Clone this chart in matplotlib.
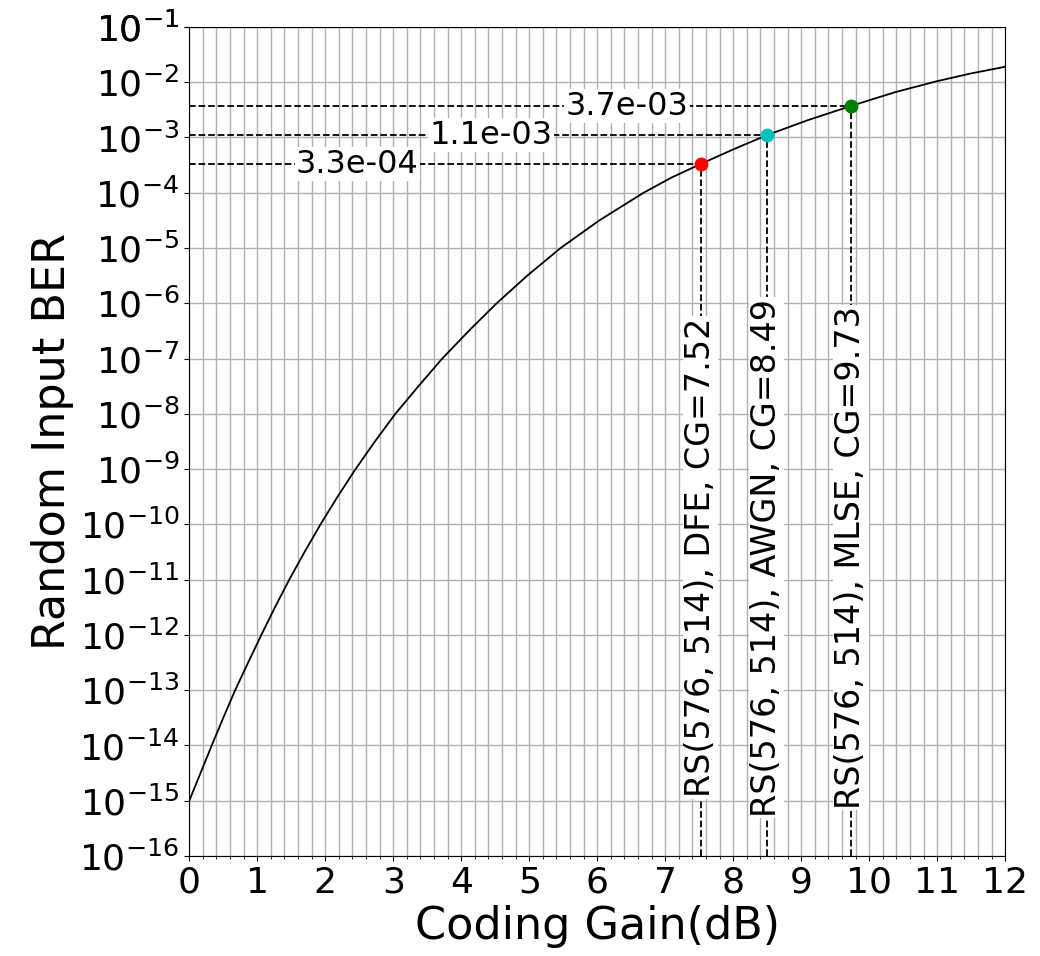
import matplotlib
matplotlib.use('Agg')
import matplotlib.pyplot as plt
import numpy as np
from matplotlib.ticker import MultipleLocator, NullLocator, FixedLocator

# curve (coding gain in dB, log10 of input BER)
gain_db = [0.0, 0.165, 0.33, 0.50, 0.675, 0.865, 1.06, 1.26, 1.47, 1.695,
           1.93, 2.18, 2.445, 2.73, 3.03, 3.37, 3.72, 4.11, 4.52, 4.97,
           5.46, 6.03, 6.68, 7.10, 7.52, 8.0, 8.49, 9.1, 9.73, 10.38,
           11.0, 11.5, 12.0]
ber_log = [-15, -14.5, -14, -13.5, -13, -12.5, -12, -11.5, -11, -10.5,
           -10, -9.5, -9, -8.5, -8, -7.5, -7, -6.5, -6, -5.5,
           -5, -4.5, -4, -3.72, -3.48, -3.215, -2.96, -2.685, -2.43, -2.18,
           -1.98, -1.84, -1.72]

# marked operating points
cg = [7.52, 8.49, 9.73]
ber_in = [3.3e-4, 1.1e-3, 3.7e-3]
names = ['RS(576, 514), DFE', 'RS(576, 514), AWGN', 'RS(576, 514), MLSE']
dot_colors = ['r', 'c', 'g']

y_decades = list(range(-16, 0))
x_ticks = list(range(0, 13))

fig = plt.figure(figsize=(10.4, 9.56), dpi=100)
ax = fig.add_axes([0.182, 0.1046, 0.7846, 0.8672])

ax.plot(gain_db, 10.0 ** np.array(ber_log), color='k', linewidth=1.3)

# where the labels sit along the dashed lines
h_label_x = [2.47, 4.44, 6.44]
v_label_y = 10 ** -10.6

for i in range(len(cg)):
    ax.plot([0, cg[i]], [ber_in[i], ber_in[i]], 'k--', linewidth=1.3)
    ax.plot([cg[i], cg[i]], [1e-16, ber_in[i]], 'k--', linewidth=1.3)
    ax.plot(cg[i], ber_in[i], 'o', color=dot_colors[i], markersize=9, zorder=5)
    ax.text(h_label_x[i], ber_in[i], '%.1e' % ber_in[i], fontsize=23,
            ha='center', va='center',
            bbox=dict(facecolor='white', edgecolor='none', pad=1))
    ax.text(cg[i], v_label_y, '%s, CG=%.2f' % (names[i], cg[i]), fontsize=24,
            ha='center', va='center', rotation=90,
            bbox=dict(facecolor='white', edgecolor='none', pad=1))

ax.set_yscale('log')
ax.set_xlim(0, 12)
ax.set_ylim(1e-16, 1e-1)
ax.yaxis.set_major_locator(FixedLocator([10.0 ** d for d in y_decades + [-1]]))
ax.yaxis.set_minor_locator(NullLocator())
ax.set_xticks(x_ticks)
ax.xaxis.set_minor_locator(MultipleLocator(0.2))
ax.grid(which='both', color='#b0b0b0', linewidth=1)
ax.tick_params(labelsize=26)

ax.set_xlabel('Coding Gain(dB)', fontsize=32)
ax.set_ylabel('Random Input BER', fontsize=32)

fig.savefig('out.png', dpi=100)
